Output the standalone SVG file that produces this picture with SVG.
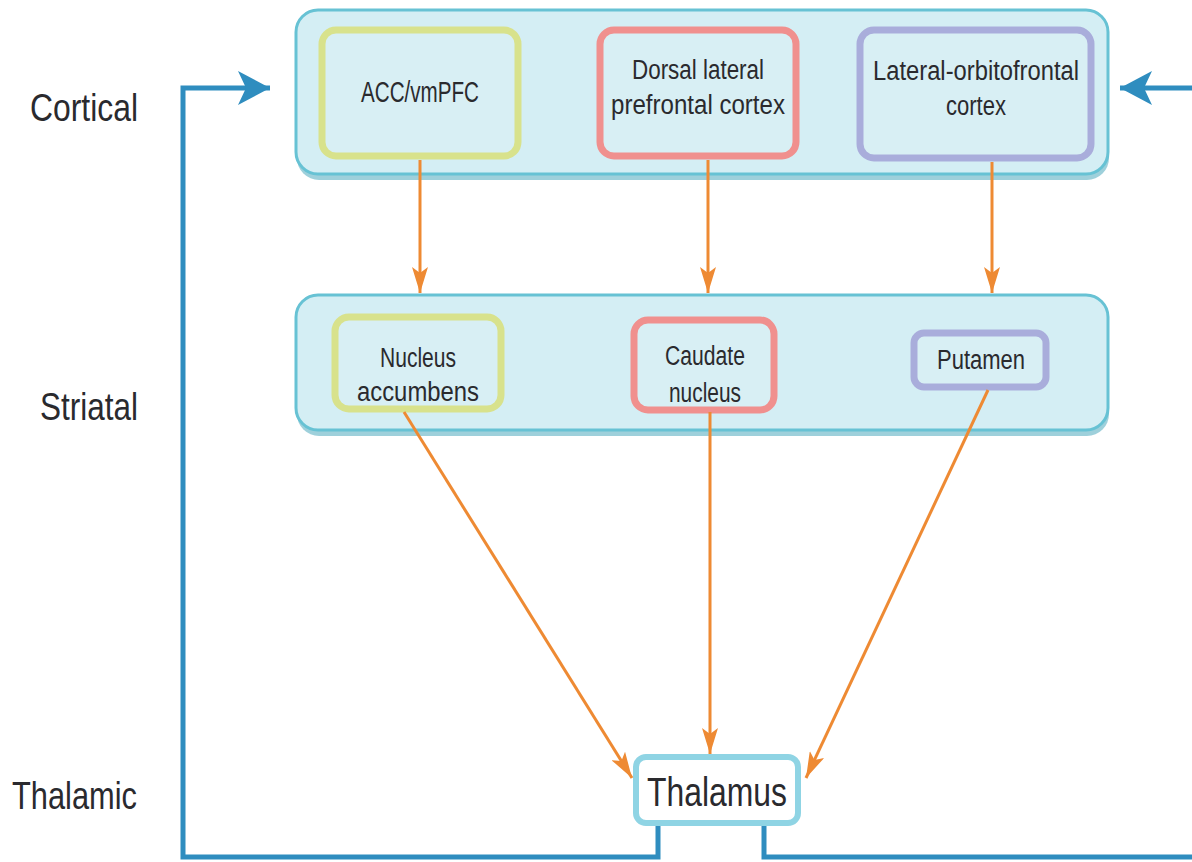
<svg xmlns="http://www.w3.org/2000/svg" width="1192" height="862" viewBox="0 0 1192 862">
<style>
.lbl{font-family:"Liberation Sans Narrow","Liberation Sans",Arial,sans-serif;fill:#2a2a2e}
.cont{fill:#d4eef4;stroke:#67c2d4;stroke-width:3}
.shadow{fill:#4fa9bd;opacity:0.55}
.box{fill:#d8eff4;stroke-width:7}
.yg{stroke:#d8e28c}
.pk{stroke:#f0908e}
.lv{stroke:#a9addb}
.or{stroke:#ee8a33;stroke-width:3;fill:none}
.bl{stroke:#2f8dbf;stroke-width:5;fill:none}
</style>
<defs>
<marker id="ao" viewBox="0 0 26 16" refX="26" refY="8" markerWidth="26" markerHeight="16" markerUnits="userSpaceOnUse" orient="auto">
<path d="M0,0 L26,8 L0,16 L6,8 Z" fill="#ee8a33"/>
</marker>
<marker id="ab" viewBox="0 0 32 34" refX="32" refY="17" markerWidth="32" markerHeight="34" markerUnits="userSpaceOnUse" orient="auto">
<path d="M0,0 L32,17 L0,34 L8,17 Z" fill="#2f8dbf"/>
</marker>
</defs>
<rect width="1192" height="862" fill="#ffffff"/>

<g id="row-labels">
<text class="lbl" x="30" y="121" font-size="38" textLength="108" lengthAdjust="spacingAndGlyphs">Cortical</text>
<text class="lbl" x="40" y="420" font-size="38" textLength="98" lengthAdjust="spacingAndGlyphs">Striatal</text>
<text class="lbl" x="12" y="809" font-size="38" textLength="125" lengthAdjust="spacingAndGlyphs">Thalamic</text>
</g>

<g id="cortical-level">
<rect class="shadow" x="297" y="14" width="812" height="166" rx="22"/>
<rect class="cont" x="296" y="10" width="812" height="164" rx="22"/>
</g>
<g id="striatal-level">
<rect class="shadow" x="297" y="299" width="812" height="137" rx="22"/>
<rect class="cont" x="296" y="295" width="812" height="135" rx="22"/>
</g>

<g id="acc">
<rect class="box yg" x="322" y="30" width="196" height="126" rx="14"/>
<text class="lbl" x="420" y="102" font-size="29" text-anchor="middle" textLength="118" lengthAdjust="spacingAndGlyphs">ACC/vmPFC</text>
</g>
<g id="dlpfc">
<rect class="box pk" x="600" y="30" width="196" height="126" rx="14"/>
<text class="lbl" x="698" y="79" font-size="27" text-anchor="middle" textLength="132" lengthAdjust="spacingAndGlyphs">Dorsal lateral</text>
<text class="lbl" x="698" y="114" font-size="27" text-anchor="middle" textLength="174" lengthAdjust="spacingAndGlyphs">prefrontal cortex</text>
</g>
<g id="lofc">
<rect class="box lv" x="860" y="30" width="231" height="128" rx="14"/>
<text class="lbl" x="976" y="80" font-size="27" text-anchor="middle" textLength="206" lengthAdjust="spacingAndGlyphs">Lateral-orbitofrontal</text>
<text class="lbl" x="976" y="115" font-size="27" text-anchor="middle" textLength="60" lengthAdjust="spacingAndGlyphs">cortex</text>
</g>

<g id="nacc">
<rect class="box yg" x="335" y="317" width="166" height="92" rx="14"/>
<text class="lbl" x="418" y="367" font-size="27" text-anchor="middle" textLength="76" lengthAdjust="spacingAndGlyphs">Nucleus</text>
<text class="lbl" x="418" y="401" font-size="27" text-anchor="middle" textLength="122" lengthAdjust="spacingAndGlyphs">accumbens</text>
</g>
<g id="caudate">
<rect class="box pk" x="634" y="320" width="140" height="90" rx="14"/>
<text class="lbl" x="705" y="365" font-size="27" text-anchor="middle" textLength="80" lengthAdjust="spacingAndGlyphs">Caudate</text>
<text class="lbl" x="705" y="402" font-size="27" text-anchor="middle" textLength="72" lengthAdjust="spacingAndGlyphs">nucleus</text>
</g>
<g id="putamen">
<rect class="box lv" x="914" y="333" width="132" height="54" rx="10"/>
<text class="lbl" x="981" y="369" font-size="27" text-anchor="middle" textLength="88" lengthAdjust="spacingAndGlyphs">Putamen</text>
</g>

<g id="thalamus">
<rect x="636" y="757" width="162" height="66" rx="10" fill="#ffffff" stroke="#8fd4e4" stroke-width="6"/>
<text class="lbl" x="717" y="806" font-size="41" text-anchor="middle" textLength="140" lengthAdjust="spacingAndGlyphs">Thalamus</text>
</g>

<g id="connectors">
<line class="or" x1="420" y1="160" x2="420" y2="293" marker-end="url(#ao)"/>
<line class="or" x1="708" y1="160" x2="708" y2="293" marker-end="url(#ao)"/>
<line class="or" x1="992" y1="162" x2="992" y2="293" marker-end="url(#ao)"/>
<line class="or" x1="404" y1="412" x2="632" y2="778" marker-end="url(#ao)"/>
<line class="or" x1="710" y1="412" x2="710" y2="754" marker-end="url(#ao)"/>
<line class="or" x1="988" y1="390" x2="806" y2="778" marker-end="url(#ao)"/>
<polyline class="bl" points="658,826 658,857 183,857 183,88 270,88" marker-end="url(#ab)"/>
<polyline class="bl" points="764,826 764,857 1192,857"/>
<line class="bl" x1="1192" y1="88" x2="1120" y2="88" marker-end="url(#ab)"/>
</g>
</svg>
